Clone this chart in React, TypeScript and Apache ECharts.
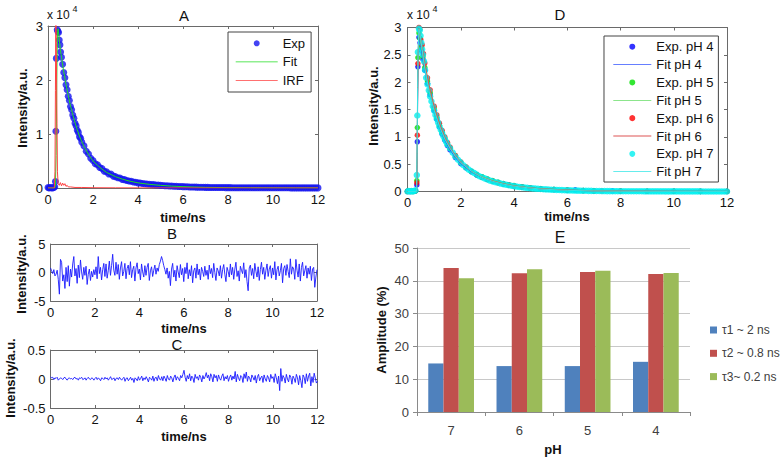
import React, { useEffect, useRef } from "react";
import * as echarts from "echarts";

// ---------------- DATA ----------------
// Panel A — decay (intensity in units of 10^4 counts), time in ns
const expAHead: [number, number][] = [
  [0, 0.01], [0.05, 0.0], [0.1, 0.01], [0.15, 0.005], [0.2, 0.0], [0.25, 0.01], [0.3, 0.02],
  [0.33, 0.12], [0.35, 1.05], [0.37, 2.4], [0.41, 2.93], [0.44, 2.9], [0.47, 2.88], [0.5, 2.74],
  [0.53, 2.65], [0.56, 2.52], [0.6, 2.42], [0.65, 2.29], [0.7, 2.14], [0.75, 2.04], [0.8, 1.91],
  [0.85, 1.82], [0.9, 1.7], [0.95, 1.62], [1.0, 1.51], [1.05, 1.45], [1.1, 1.35], [1.15, 1.29],
  [1.2, 1.2], [1.25, 1.15], [1.3, 1.07], [1.35, 1.03], [1.4, 0.95], [1.45, 0.92], [1.5, 0.85],
];
const tailStart = 1.6; // ns, tail samples every 0.1 ns
const tailStep = 0.1;
const expATail = [
  0.78, 0.68, 0.63, 0.55, 0.51, 0.45, 0.43, 0.38, 0.36, 0.31,
  0.30, 0.26, 0.26, 0.22, 0.21, 0.19, 0.185, 0.16, 0.155, 0.14,
  0.13, 0.125, 0.11, 0.105, 0.095, 0.092, 0.083, 0.08, 0.073, 0.07,
  0.064, 0.062, 0.056, 0.054, 0.049, 0.047, 0.043, 0.041, 0.038, 0.036,
  0.033, 0.032, 0.029, 0.027, 0.025, 0.024, 0.022, 0.02, 0.019, 0.018,
  0.016, 0.015, 0.014, 0.013, 0.012, 0.011, 0.01, 0.01, 0.009, 0.009,
  0.008, 0.008, 0.008, 0.007, 0.007, 0.007, 0.006, 0.006, 0.006, 0.006,
  0.005, 0.005, 0.005, 0.005, 0.005, 0.004, 0.004, 0.004, 0.004, 0.004,
  0.004, 0.004, 0.003, 0.003, 0.003, 0.003, 0.003, 0.003, 0.003, 0.003,
  0.003, 0.003, 0.002, 0.002, 0.002, 0.002, 0.002, 0.002, 0.002, 0.002,
  0.002, 0.002, 0.002, 0.002, 0.002,
];
const fitA: [number, number][] = [
  [0, 0], [0.3, 0], [0.33, 0.05], [0.36, 0.6], [0.39, 2.0], [0.42, 2.9], [0.45, 2.95], [0.5, 2.76],
  [0.55, 2.56], [0.6, 2.42], [0.7, 2.15], [0.8, 1.92], [0.9, 1.71], [1.0, 1.52], [1.1, 1.36],
  [1.2, 1.21], [1.3, 1.08], [1.4, 0.96], [1.5, 0.86], [1.6, 0.77], [1.8, 0.62], [2.0, 0.5],
  [2.2, 0.42], [2.4, 0.35], [2.6, 0.29], [2.8, 0.25], [3.0, 0.21], [3.3, 0.165], [3.6, 0.13],
  [4.0, 0.095], [4.5, 0.068], [5.0, 0.049], [5.5, 0.035], [6.0, 0.025], [6.5, 0.018], [7.0, 0.012],
  [8.0, 0.007], [9.0, 0.005], [10.0, 0.003], [11.0, 0.002], [12.0, 0.002],
];
const irfA: [number, number][] = [
  [0, 0], [0.28, 0], [0.31, 0.3], [0.33, 1.8], [0.35, 3.4], [0.38, 3.4], [0.4, 1.2], [0.42, 0.3],
  [0.45, 0.08], [0.5, 0.05], [0.55, 0.1], [0.6, 0.04], [0.65, 0.09], [0.7, 0.05], [0.75, 0.08],
  [0.8, 0.03], [0.85, 0.05], [0.9, 0.02], [1.0, 0.02], [1.2, 0.01], [1.5, 0.01], [2.0, 0.005],
  [3.0, 0.003], [4.0, 0.002], [6.0, 0.001], [8.0, 0], [12.0, 0],
];

// Panels B and C — residuals, sampled every 0.05 ns from 0 to 12 ns
const residStep = 0.05;
const residualB = [
  0.8, 0.3, -0.2, 0.5, -0.6, -0.3, 0.4, -1.2, -3.8, 2.3, 1.8, -1.5, -0.4, -2.8, 0.9, -1.6, 1.2, -2.4, 0.6, -0.8,
  1.5, 2.8, -0.6, 0.7, -1.9, 1.3, -0.9, 2.2, 0.1, -1.2, 0.9, -0.5, 1.1, -2.1, -0.3, 0.6, -1.4, 0.2, -0.8, 0.5,
  -0.4, 1.0, -1.1, 2.8, -0.2, 0.9, -1.3, 0.5, 1.6, -0.7, 1.5, -1.0, 0.3, 2.0, -0.5, 1.2, 3.2, 0.4, -0.5, 1.8,
  -0.3, 1.4, -1.2, 0.8, 1.9, -0.6, 0.2, 1.6, -1.1, 0.7, 1.3, -0.4, 1.9, -0.9, 0.5, 1.1, -1.5, 0.8, 1.7, -0.2,
  0.6, -1.3, 1.5, 0.1, -0.8, 1.2, -0.5, 0.9, 1.6, -1.4, 0.3, 1.0, -0.7, 0.4, 1.3, -0.3, 0.8, 0.2, 1.4, 2.0,
  2.8, 2.1, 1.2, 0.5, -0.3, 0.8, -1.0, 0.2, -2.3, 0.6, 1.6, -0.8, 0.4, -1.5, 1.2, 0.1, -0.9, 1.4, -0.4, 0.7,
  -1.6, 0.9, -0.2, 1.7, -1.1, 0.5, -0.6, 1.2, -1.8, 0.3, 0.8, -1.0, 1.5, -0.4, 0.6, -1.3, 0.9, 0.2, -0.7, 1.1,
  -0.5, 0.4, -1.2, 1.3, -0.2, 0.7, -0.9, 1.6, 0.0, -1.4, 0.8, 0.3, -0.6, 1.2, -1.0, 0.5, 1.4, -0.3, -1.6, 0.9,
  0.2, -0.8, 1.5, -0.4, 0.9, -1.2, 0.6, 1.8, -0.7, 0.3, -1.5, 1.1, 0.4, -0.2, 1.7, -0.9, 0.5, -1.6, -3.2, 0.8,
  1.3, -0.5, 0.7, -1.1, 1.6, 0.2, -0.8, 1.0, -1.4, 0.5, 1.8, -0.3, 0.9, -1.2, 0.4, 1.5, -0.7, 0.6, 1.2, -1.0,
  0.8, -0.4, 1.9, -1.3, 0.5, 1.1, -0.6, 0.3, 1.6, -1.8, 0.7, 1.2, -0.5, 1.4, 0.2, -0.9, 2.4, -0.3, 1.0, 0.6,
  -1.2, 2.3, 0.4, -0.8, 1.5, -1.5, 0.9, 1.8, -0.6, 0.3, 1.2, -1.0, 0.8, -0.3, 1.1, -1.4, 0.6, 0.9, -2.6, -0.8,
  0.5,
];
const residualC = [
  0.04, 0.02, 0.03, -0.01, 0.02, 0.01, 0.03, -0.02, 0.0, 0.02, 0.01, -0.01, 0.02, 0.03, 0.0, -0.02, 0.01, 0.02, 0.0, 0.01,
  -0.01, 0.02, 0.03, 0.0, 0.01, -0.02, 0.02, 0.01, 0.03, -0.01, 0.0, 0.02, -0.02, 0.01, 0.03, 0.0, -0.01, 0.02, 0.01, -0.02,
  0.01, 0.03, -0.01, 0.02, 0.0, -0.03, 0.02, 0.01, -0.01, 0.03, 0.0, 0.02, -0.02, 0.01, 0.04, -0.01, 0.0, 0.02, -0.03, 0.01,
  0.02, -0.01, 0.03, 0.0, -0.02, 0.01, 0.03, -0.04, 0.01, 0.02, -0.03, 0.0, 0.03, -0.02, 0.01, -0.06, 0.02, 0.0, -0.03, 0.04,
  -0.02, 0.01, 0.05, -0.03, 0.02, -0.01, 0.04, 0.0, -0.05, 0.03, 0.01, -0.02, 0.05, -0.04, 0.02, 0.03, -0.03, 0.06, 0.0, -0.02,
  0.04, -0.03, 0.05, 0.01, -0.04, 0.06, 0.0, -0.02, 0.05, 0.02, -0.05, 0.03, 0.07, -0.02, 0.04, 0.01, -0.03, 0.06, 0.02, 0.08,
  0.15, 0.03, -0.04, 0.06, 0.0, 0.09, -0.03, 0.05, 0.02, -0.06, 0.08, 0.01, 0.04, -0.02, 0.07, 0.03, -0.05, 0.06, 0.0, 0.04,
  0.11, 0.02, 0.07, -0.03, 0.09, 0.04, -0.05, 0.08, 0.02, 0.06, -0.04, 0.07, 0.01, -0.02, 0.05, 0.09, -0.03, 0.04, 0.0, 0.06,
  -0.04, 0.03, 0.07, -0.02, 0.05, 0.0, 0.13, -0.05, 0.08, 0.02, -0.03, 0.06, 0.04, -0.06, 0.09, 0.01, 0.12, -0.04, 0.05, 0.02,
  -0.05, 0.07, 0.03, -0.02, 0.06, -0.07, 0.04, 0.08, -0.03, 0.02, 0.05, -0.06, 0.07, 0.0, -0.04, 0.06, 0.02, -0.05, 0.08, 0.01,
  0.04, -0.06, 0.09, 0.02, -0.08, 0.05, -0.2, 0.18, -0.04, 0.06, 0.02, -0.07, 0.08, 0.0, -0.05, 0.07, 0.03, -0.09, 0.05, 0.01,
  -0.06, 0.08, 0.02, -0.1, 0.06, -0.03, -0.15, 0.07, 0.03, -0.08, 0.09, -0.04, 0.05, 0.1, -0.12, 0.04, -0.06, 0.1, 0.02, -0.07,
  -0.04,
];

// Panel D — decays at pH 4..7 (units of 10^4 counts)
const expPH4: [number, number][] = [
  [0, 0.005], [0.1, 0], [0.2, 0.005], [0.3, 0.01], [0.35, 0.12], [0.37, 0.91], [0.39, 2.28], [0.43, 2.82],
  [0.47, 2.72], [0.52, 2.58], [0.58, 2.42], [0.65, 2.22], [0.75, 1.98], [0.85, 1.77], [1.0, 1.48],
  [1.1, 1.32], [1.2, 1.18], [1.3, 1.05], [1.4, 0.94], [1.5, 0.84], [1.6, 0.76], [1.8, 0.62], [2.0, 0.51],
  [2.2, 0.43], [2.4, 0.36], [2.6, 0.3], [2.8, 0.26], [3.0, 0.22], [3.2, 0.19], [3.4, 0.165], [3.6, 0.14],
  [3.8, 0.12], [4.0, 0.105], [4.3, 0.085], [4.6, 0.068], [5.0, 0.05], [5.5, 0.036], [6.0, 0.026],
  [6.3, 0.03], [6.6, 0.017], [7.0, 0.012], [7.7, 0.012], [8.0, 0.007], [9.0, 0.004], [10.0, 0.003],
  [11.0, 0.002], [12.0, 0.002],
];
const fitPH4: [number, number][] = [
  [0, 0], [0.34, 0], [0.36, 0.5], [0.38, 1.6], [0.4, 2.4], [0.43, 2.85], [0.47, 2.75], [0.55, 2.5],
  [0.65, 2.22], [0.8, 1.88], [1.0, 1.48], [1.2, 1.18], [1.4, 0.94], [1.6, 0.76], [1.8, 0.62], [2.0, 0.51],
  [2.4, 0.36], [2.8, 0.26], [3.2, 0.19], [3.6, 0.14], [4.0, 0.105], [4.5, 0.073], [5.0, 0.05], [6.0, 0.026],
  [7.0, 0.012], [8.0, 0.007], [10.0, 0.003], [12.0, 0.002],
];
const expPH5: [number, number][] = [
  [0, 0.005], [0.1, 0.005], [0.2, 0], [0.3, 0.01], [0.35, 0.2], [0.37, 1.17], [0.39, 2.45], [0.43, 2.9],
  [0.47, 2.8], [0.52, 2.64], [0.58, 2.47], [0.65, 2.27], [0.75, 2.02], [0.85, 1.81], [1.0, 1.52],
  [1.1, 1.36], [1.2, 1.21], [1.3, 1.08], [1.4, 0.97], [1.5, 0.87], [1.6, 0.79], [1.8, 0.65], [2.0, 0.53],
  [2.2, 0.44], [2.4, 0.37], [2.6, 0.31], [2.8, 0.27], [3.0, 0.23], [3.2, 0.2], [3.4, 0.17], [3.6, 0.145],
  [3.8, 0.125], [4.0, 0.108], [4.3, 0.088], [4.6, 0.07], [5.0, 0.052], [5.5, 0.037], [6.0, 0.027],
  [6.6, 0.018], [7.0, 0.013], [8.0, 0.007], [9.0, 0.004], [10.0, 0.003], [11.0, 0.002], [12.0, 0.002],
];
const fitPH5: [number, number][] = [
  [0, 0], [0.34, 0], [0.36, 0.6], [0.38, 1.8], [0.4, 2.55], [0.43, 2.9], [0.47, 2.8], [0.55, 2.56],
  [0.65, 2.27], [0.8, 1.92], [1.0, 1.52], [1.2, 1.21], [1.4, 0.97], [1.6, 0.79], [1.8, 0.65], [2.0, 0.53],
  [2.4, 0.37], [2.8, 0.27], [3.2, 0.2], [3.6, 0.145], [4.0, 0.108], [4.5, 0.075], [5.0, 0.052], [6.0, 0.027],
  [7.0, 0.013], [8.0, 0.007], [10.0, 0.003], [12.0, 0.002],
];
const expPH6: [number, number][] = [
  [0, 0.0], [0.1, 0.005], [0.2, 0.005], [0.3, 0.01], [0.35, 0.16], [0.37, 1.03], [0.39, 2.34], [0.43, 3.0],
  [0.46, 2.97], [0.5, 2.78], [0.55, 2.68], [0.6, 2.52], [0.65, 2.35], [0.75, 2.08], [0.85, 1.86],
  [1.0, 1.56], [1.1, 1.4], [1.2, 1.25], [1.3, 1.12], [1.4, 1.0], [1.5, 0.9], [1.6, 0.81], [1.8, 0.66],
  [2.0, 0.54], [2.2, 0.45], [2.4, 0.37], [2.6, 0.31], [2.8, 0.26], [3.0, 0.22], [3.2, 0.19], [3.4, 0.16],
  [3.6, 0.14], [3.8, 0.12], [4.0, 0.1], [4.3, 0.082], [4.6, 0.066], [5.0, 0.049], [5.5, 0.035],
  [6.0, 0.025], [6.6, 0.017], [7.0, 0.012], [7.3, 0.01], [8.0, 0.007], [9.0, 0.004], [10.0, 0.003],
  [11.0, 0.002], [12.0, 0.002],
];
const fitPH6: [number, number][] = [
  [0, 0], [0.34, 0], [0.36, 0.5], [0.38, 1.7], [0.4, 2.5], [0.43, 2.98], [0.47, 2.88], [0.55, 2.65],
  [0.65, 2.35], [0.8, 1.97], [1.0, 1.56], [1.2, 1.25], [1.4, 1.0], [1.6, 0.81], [1.8, 0.66], [2.0, 0.54],
  [2.4, 0.37], [2.8, 0.26], [3.2, 0.19], [3.6, 0.14], [4.0, 0.1], [4.5, 0.07], [5.0, 0.049], [6.0, 0.025],
  [7.0, 0.012], [8.0, 0.007], [10.0, 0.003], [12.0, 0.002],
];
const expPH7Head: [number, number][] = [
  [0, 0.0], [0.05, 0.01], [0.1, 0.0], [0.15, 0.01], [0.2, 0.0], [0.25, 0.01], [0.3, 0.02],
  [0.35, 0.3], [0.37, 1.39], [0.39, 2.55], [0.43, 2.98], [0.46, 2.95], [0.49, 2.85], [0.52, 2.72],
  [0.55, 2.6], [0.58, 2.5], [0.62, 2.38], [0.66, 2.22], [0.7, 2.08], [0.75, 1.96], [0.8, 1.85],
  [0.85, 1.74], [0.9, 1.65], [0.95, 1.56], [1.0, 1.48], [1.05, 1.4], [1.1, 1.33], [1.15, 1.26],
  [1.2, 1.19], [1.25, 1.13], [1.3, 1.07], [1.35, 1.01], [1.4, 0.96], [1.45, 0.91], [1.5, 0.86],
];
const expPH7Tail = [
  0.79, 0.71, 0.64, 0.58, 0.53, 0.48, 0.44, 0.40, 0.37, 0.34,
  0.31, 0.28, 0.26, 0.24, 0.22, 0.2, 0.185, 0.17, 0.16, 0.145,
  0.135, 0.125, 0.115, 0.105, 0.098, 0.09, 0.083, 0.077, 0.072, 0.066,
  0.061, 0.057, 0.053, 0.049, 0.045, 0.042, 0.039, 0.036, 0.033, 0.031,
  0.029, 0.027, 0.025, 0.023, 0.021, 0.02, 0.018, 0.017, 0.016, 0.015,
  0.014, 0.013, 0.012, 0.011, 0.01, 0.009, 0.009, 0.008, 0.008, 0.007,
  0.007, 0.006, 0.006, 0.006, 0.005, 0.005, 0.005, 0.005, 0.004, 0.004,
  0.004, 0.004, 0.004, 0.003, 0.003, 0.003, 0.003, 0.003, 0.003, 0.003,
  0.003, 0.002, 0.002, 0.002, 0.002, 0.002, 0.002, 0.002, 0.002, 0.002,
  0.002, 0.002, 0.002, 0.002, 0.002, 0.001, 0.001, 0.001, 0.001, 0.001,
  0.001, 0.001, 0.001, 0.001, 0.001,
];
const fitPH7: [number, number][] = [
  [0, 0], [0.34, 0], [0.36, 0.7], [0.38, 1.9], [0.4, 2.6], [0.43, 2.97], [0.47, 2.88], [0.55, 2.6],
  [0.65, 2.25], [0.8, 1.85], [1.0, 1.48], [1.2, 1.19], [1.4, 0.96], [1.6, 0.79], [1.8, 0.64], [2.0, 0.53],
  [2.4, 0.37], [2.8, 0.26], [3.2, 0.185], [3.6, 0.135], [4.0, 0.098], [4.5, 0.069], [5.0, 0.045],
  [6.0, 0.021], [7.0, 0.01], [8.0, 0.005], [10.0, 0.002], [12.0, 0.001],
];

// Panel E — amplitudes (%)
const phCategories = ["7", "6", "5", "4"];
const ampTau1 = [14.8, 14.0, 14.0, 15.3];
const ampTau2 = [43.9, 42.3, 42.7, 42.1];
const ampTau3 = [40.8, 43.5, 43.1, 42.4];

// ---------------- STYLE ----------------
const FONT = '"Liberation Sans", Arial, Helvetica, sans-serif';
const AXC = "#6a6a6a";
const LINE_ICON = "path://M0,0 L60,0 L60,1.2 L0,1.2 Z";

function withTail(head: [number, number][], tail: number[]): [number, number][] {
  return head.concat(tail.map((v, i) => [+(tailStart + i * tailStep).toFixed(2), v] as [number, number]));
}
function residPairs(vals: number[]): [number, number][] {
  return vals.map((v, i) => [+(i * residStep).toFixed(2), v] as [number, number]);
}

function mX(gridIndex: number, position: "bottom" | "top", labels: boolean, margin = 5) {
  return {
    type: "value",
    gridIndex,
    position,
    min: 0,
    max: 12,
    interval: 2,
    axisLine: { show: true, onZero: false, lineStyle: { color: AXC, width: 1 } },
    axisTick: { show: true, inside: true, length: 3, lineStyle: { color: AXC } },
    axisLabel: {
      show: labels,
      fontSize: 13,
      color: "#111",
      fontFamily: FONT,
      margin,
      showMinLabel: true,
      showMaxLabel: true,
    },
    splitLine: { show: false },
  };
}
function mY(gridIndex: number, position: "left" | "right", min: number, max: number, interval: number, labels: boolean, margin = 5) {
  return {
    type: "value",
    gridIndex,
    position,
    min,
    max,
    interval,
    axisLine: { show: true, onZero: false, lineStyle: { color: AXC, width: 1 } },
    axisTick: { show: true, inside: true, length: 3, lineStyle: { color: AXC } },
    axisLabel: {
      show: labels,
      fontSize: 13,
      color: "#111",
      fontFamily: FONT,
      margin,
      showMinLabel: true,
      showMaxLabel: true,
    },
    splitLine: { show: false },
  };
}

function txt(text: string, x: number, y: number, size: number, opt: { bold?: boolean; rot?: boolean; align?: string; color?: string } = {}) {
  return {
    type: "text",
    x,
    y,
    rotation: opt.rot ? Math.PI / 2 : 0,
    silent: true,
    z: 50,
    style: {
      text,
      fontSize: size,
      fontFamily: FONT,
      fontWeight: opt.bold ? "bold" : "normal",
      fill: opt.color || "#111",
      align: opt.align || "center",
      verticalAlign: "middle",
    },
  };
}

function lineItem(name: string) {
  return { name, icon: LINE_ICON };
}

function buildOption() {
  const legendText = { fontSize: 13, fontFamily: FONT, color: "#111" };
  return {
    animation: false,
    backgroundColor: "#ffffff",
    grid: [
      { left: 48, top: 26, width: 270, height: 162, outerBoundsMode: "none" },
      { left: 50.5, top: 244, width: 266.5, height: 57, outerBoundsMode: "none" },
      { left: 50.5, top: 350, width: 267, height: 58, outerBoundsMode: "none" },
      { left: 407.5, top: 27.5, width: 319.5, height: 164, outerBoundsMode: "none" },
      { left: 417, top: 248, width: 273, height: 164, outerBoundsMode: "none" },
    ],
    xAxis: [
      mX(0, "bottom", true),
      mX(0, "top", false),
      mX(1, "bottom", true),
      mX(1, "top", false),
      mX(2, "bottom", true),
      mX(2, "top", false),
      mX(3, "bottom", true, 4),
      mX(3, "top", false),
      {
        type: "category",
        gridIndex: 4,
        data: phCategories,
        axisLine: { show: true, lineStyle: { color: "#8a8a8a" } },
        axisTick: { show: true, length: 4, lineStyle: { color: "#8a8a8a" } },
        axisLabel: { fontSize: 13, color: "#404040", fontFamily: FONT, margin: 12 },
      },
    ],
    yAxis: [
      mY(0, "left", 0, 3, 1, true),
      mY(0, "right", 0, 3, 1, false),
      mY(1, "left", -5, 5, 5, true),
      mY(1, "right", -5, 5, 5, false),
      mY(2, "left", -0.5, 0.5, 0.5, true),
      mY(2, "right", -0.5, 0.5, 0.5, false),
      mY(3, "left", 0, 3, 0.5, true, 6),
      mY(3, "right", 0, 3, 0.5, false),
      {
        type: "value",
        gridIndex: 4,
        min: 0,
        max: 50,
        interval: 10,
        axisLine: { show: true, lineStyle: { color: "#8a8a8a" } },
        axisTick: { show: true, length: 4, lineStyle: { color: "#8a8a8a" } },
        axisLabel: { fontSize: 13, color: "#404040", fontFamily: FONT, margin: 8 },
        splitLine: { show: true, lineStyle: { color: "#c8c8c8", width: 1 } },
      },
    ],
    legend: [
      {
        data: ["Exp", lineItem("Fit"), lineItem("IRF")],
        left: 228,
        top: 32,
        orient: "vertical",
        itemWidth: 42,
        itemHeight: 6,
        itemGap: 5.5,
        padding: [4.8, 6, 5.2, 7.7],
        borderColor: "#444",
        borderWidth: 1,
        backgroundColor: "#fff",
        textStyle: legendText,
        selectedMode: false,
      },
      {
        data: [
          "Exp. pH 4", lineItem("Fit pH 4"),
          "Exp. pH 5", lineItem("Fit pH 5"),
          "Exp. pH 6", lineItem("Fit pH 6"),
          "Exp. pH 7", lineItem("Fit pH 7"),
        ],
        left: 604,
        top: 36,
        orient: "vertical",
        itemWidth: 38,
        itemHeight: 6,
        itemGap: 4.86,
        padding: [4.2, 5, 3.8, 9.3],
        borderColor: "#444",
        borderWidth: 1,
        backgroundColor: "#fff",
        textStyle: legendText,
        selectedMode: false,
      },
      {
        data: ["τ1 ~ 2 ns", "τ2 ~ 0.8 ns", "τ3~ 0.2 ns"],
        left: 710,
        top: 324,
        orient: "vertical",
        icon: "rect",
        itemWidth: 7,
        itemHeight: 7,
        itemGap: 11.3,
        padding: 0,
        textStyle: { fontSize: 12, fontFamily: FONT, color: "#404040" },
        selectedMode: false,
      },
    ],
    graphic: [
      txt("A", 184, 15, 15),
      txt("x 10", 47, 15, 12, { align: "left" }),
      txt("4", 72.5, 9, 9, { align: "left" }),
      txt("Intensity/a.u.", 22, 108, 13, { bold: true, rot: true }),
      txt("time/ns", 183, 217, 13, { bold: true }),
      txt("B", 172, 233, 15),
      txt("Intensity/a.u.", 21, 274, 13, { bold: true, rot: true }),
      txt("time/ns", 184, 328, 13, { bold: true }),
      txt("C", 177, 344, 15),
      txt("Intensity/a.u.", 10, 378, 13, { bold: true, rot: true }),
      txt("time/ns", 184, 436, 13, { bold: true }),
      txt("D", 560, 14, 15),
      txt("x 10", 407, 15, 12, { align: "left" }),
      txt("4", 432.5, 9, 9, { align: "left" }),
      txt("Intensity/a.u.", 373, 106, 13, { bold: true, rot: true }),
      txt("time/ns", 567, 216, 13, { bold: true }),
      txt("E", 560, 237, 16),
      txt("Amplitude (%)", 381, 330, 13, { bold: true, rot: true }),
      txt("pH", 553, 449, 13, { bold: true }),
    ],
    series: [
      // Panel A
      {
        name: "Exp",
        type: "scatter",
        xAxisIndex: 0,
        yAxisIndex: 0,
        data: withTail(expAHead, expATail),
        symbol: "circle",
        symbolSize: 7,
        itemStyle: { color: "#1414f0" },
        silent: true,
      },
      {
        name: "Fit",
        type: "line",
        xAxisIndex: 0,
        yAxisIndex: 0,
        data: fitA,
        symbol: "none",
        lineStyle: { color: "#22dd22", width: 1 },
        itemStyle: { color: "#22dd22" },
        silent: true,
      },
      {
        name: "IRF",
        type: "line",
        xAxisIndex: 0,
        yAxisIndex: 0,
        data: irfA,
        symbol: "none",
        lineStyle: { color: "#ff4040", width: 1 },
        itemStyle: { color: "#ff4040" },
        silent: true,
      },
      // Panel B
      {
        name: "Residual B",
        type: "line",
        xAxisIndex: 2,
        yAxisIndex: 2,
        data: residPairs(residualB),
        symbol: "none",
        lineStyle: { color: "#1a1aff", width: 0.9 },
        silent: true,
      },
      // Panel C
      {
        name: "Residual C",
        type: "line",
        xAxisIndex: 4,
        yAxisIndex: 4,
        data: residPairs(residualC),
        symbol: "none",
        lineStyle: { color: "#1a1aff", width: 0.9 },
        silent: true,
      },
      // Panel D
      { name: "Exp. pH 4", type: "scatter", xAxisIndex: 6, yAxisIndex: 6, data: expPH4, symbolSize: 5.5, itemStyle: { color: "#0000ff" }, silent: true },
      { name: "Fit pH 4", type: "line", xAxisIndex: 6, yAxisIndex: 6, data: fitPH4, symbol: "none", lineStyle: { color: "#3355ff", width: 1 }, itemStyle: { color: "#3355ff" }, silent: true },
      { name: "Exp. pH 5", type: "scatter", xAxisIndex: 6, yAxisIndex: 6, data: expPH5, symbolSize: 5.5, itemStyle: { color: "#00e000" }, silent: true },
      { name: "Fit pH 5", type: "line", xAxisIndex: 6, yAxisIndex: 6, data: fitPH5, symbol: "none", lineStyle: { color: "#66dd66", width: 1 }, itemStyle: { color: "#66dd66" }, silent: true },
      { name: "Exp. pH 6", type: "scatter", xAxisIndex: 6, yAxisIndex: 6, data: expPH6, symbolSize: 5.5, itemStyle: { color: "#ff0000" }, silent: true },
      { name: "Fit pH 6", type: "line", xAxisIndex: 6, yAxisIndex: 6, data: fitPH6, symbol: "none", lineStyle: { color: "#dd5555", width: 1 }, itemStyle: { color: "#dd5555" }, silent: true },
      { name: "Exp. pH 7", type: "scatter", xAxisIndex: 6, yAxisIndex: 6, data: withTail(expPH7Head, expPH7Tail), symbolSize: 6.5, itemStyle: { color: "#00f0f0" }, silent: true },
      { name: "Fit pH 7", type: "line", xAxisIndex: 6, yAxisIndex: 6, data: fitPH7, symbol: "none", lineStyle: { color: "#33e6e6", width: 1 }, itemStyle: { color: "#33e6e6" }, silent: true },
      // Panel E
      { name: "τ1 ~ 2 ns", type: "bar", xAxisIndex: 8, yAxisIndex: 8, data: ampTau1, barGap: "0%", barCategoryGap: "33%", itemStyle: { color: "#4f81bd" }, silent: true },
      { name: "τ2 ~ 0.8 ns", type: "bar", xAxisIndex: 8, yAxisIndex: 8, data: ampTau2, barGap: "0%", barCategoryGap: "33%", itemStyle: { color: "#c0504d" }, silent: true },
      { name: "τ3~ 0.2 ns", type: "bar", xAxisIndex: 8, yAxisIndex: 8, data: ampTau3, barGap: "0%", barCategoryGap: "33%", itemStyle: { color: "#9bbb59" }, silent: true },
    ],
  };
}

export default function App() {
  const ref = useRef<HTMLDivElement>(null);
  useEffect(() => {
    if (!ref.current) return;
    const chart = echarts.init(ref.current, null, { renderer: "svg" });
    chart.setOption(buildOption() as any);
    return () => chart.dispose();
  }, []);
  return (
    <div
      ref={ref}
      style={{ position: "fixed", left: 0, top: 0, width: 784, height: 459, background: "#fff" }}
    />
  );
}
